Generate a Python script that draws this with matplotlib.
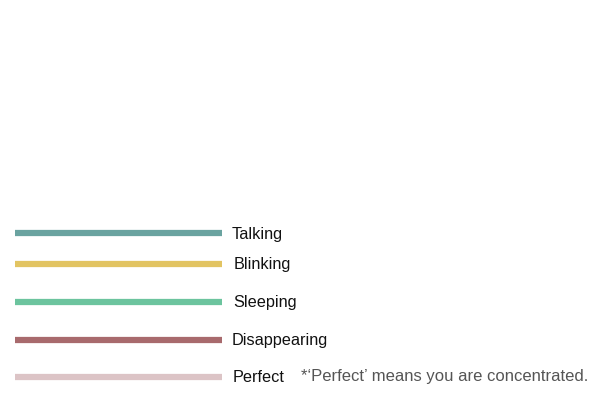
import matplotlib.pyplot as plt

labels = ['Talking', 'Blinking', 'Sleeping', 'Disappearing', 'Perfect']
colors = ['#6aa3a0', '#e2c462', '#6cc49e', '#a86a6d', '#dcc4c6']
note = "*\u2018Perfect\u2019 means you are concentrated."

# layout: row centres in pixel units from the top of the figure
row_y = [233, 264, 302, 340, 377]
label_x = [232, 234, 233, 232, 233]

fig = plt.figure(figsize=(6, 4), dpi=100)
ax = fig.add_axes([0, 0, 1, 1])
ax.set_xlim(0, 600)
ax.set_ylim(400, 0)
ax.axis('off')

for y, x, lab, c in zip(row_y, label_x, labels, colors):
    ax.plot([15, 222], [y, y], color=c, lw=4.5, solid_capstyle='butt')
    ax.text(x, y + 1, lab, va='center', ha='left', fontsize=11.7,
            family='Liberation Sans', color='#111111')

ax.text(301, row_y[-1] - 1, note, va='center', ha='left', fontsize=12,
        family='Liberation Sans', color='#555555')

fig.savefig('out.png', dpi=100)
